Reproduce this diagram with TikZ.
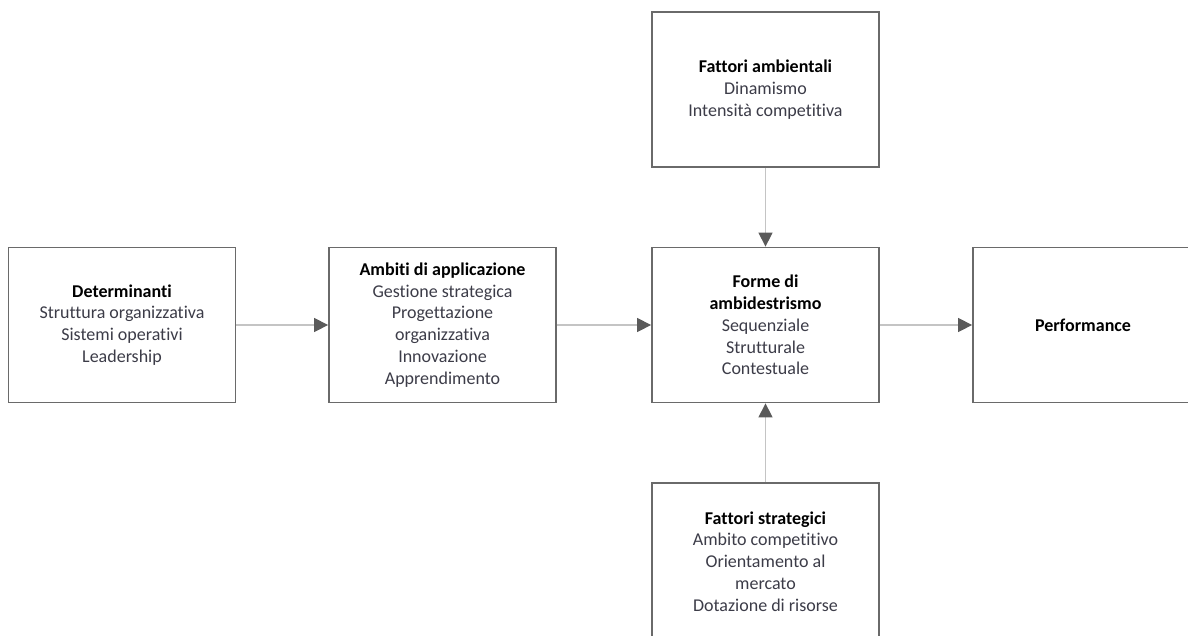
\documentclass[tikz,border=0pt]{standalone}
\usepackage{fontspec}
\setmainfont{Carlito}[Ligatures={NoCommon}]
\usetikzlibrary{arrows.meta}
\definecolor{boxgray}{HTML}{6A6A6A}
\definecolor{linegray}{HTML}{C4C4C4}
\definecolor{tipgray}{HTML}{5A5A5A}
\definecolor{itemgray}{HTML}{3C3C48}
\newcommand{\hd}[1]{\textbf{\color{black}#1}}
\begin{document}
\begin{tikzpicture}[x=1pt,y=-1pt,
  box/.style={draw=boxgray, line width=1.8pt, fill=white, minimum width=227pt,
    minimum height=155pt, align=center, inner sep=0pt,
    font=\fontsize{18}{21.8}\selectfont, text=itemgray},
  conn/.style={draw=linegray, line width=1.3pt,
    -{Triangle[length=14pt,width=14pt,color=tipgray,fill=tipgray]}}]
\useasboundingbox (0,0) rectangle (1188,635);
\clip (0,0) rectangle (1188,635);
\node[box] (det) at (122,325) {\hd{Determinanti}\\Struttura organizzativa\\Sistemi operativi\\Leadership};
\node[box] (amb) at (442.5,325) {\hd{Ambiti di applicazione}\\Gestione strategica\\Progettazione\\organizzativa\\Innovazione\\Apprendimento};
\node[box] (for) at (765.5,325) {\hd{Forme di}\\\hd{ambidestrismo}\\Sequenziale\\Strutturale\\Contestuale};
\node[box, minimum width=240pt] (per) at (1093,325) {\hd{Performance}\hspace*{20pt}};
\node[box] (fam) at (765.5,89.5) {\hd{Fattori ambientali}\\Dinamismo\\Intensità competitiva};
\node[box, minimum height=157pt] (fst) at (765.5,561.5) {\hd{Fattori strategici}\\Ambito competitivo\\Orientamento al\\mercato\\Dotazione di risorse};
\draw[conn] (det) -- (amb);
\draw[conn] (amb) -- (for);
\draw[conn] (for) -- (per);
\draw[conn] (fam) -- (for);
\draw[conn] (fst) -- (for);
\end{tikzpicture}
\end{document}
